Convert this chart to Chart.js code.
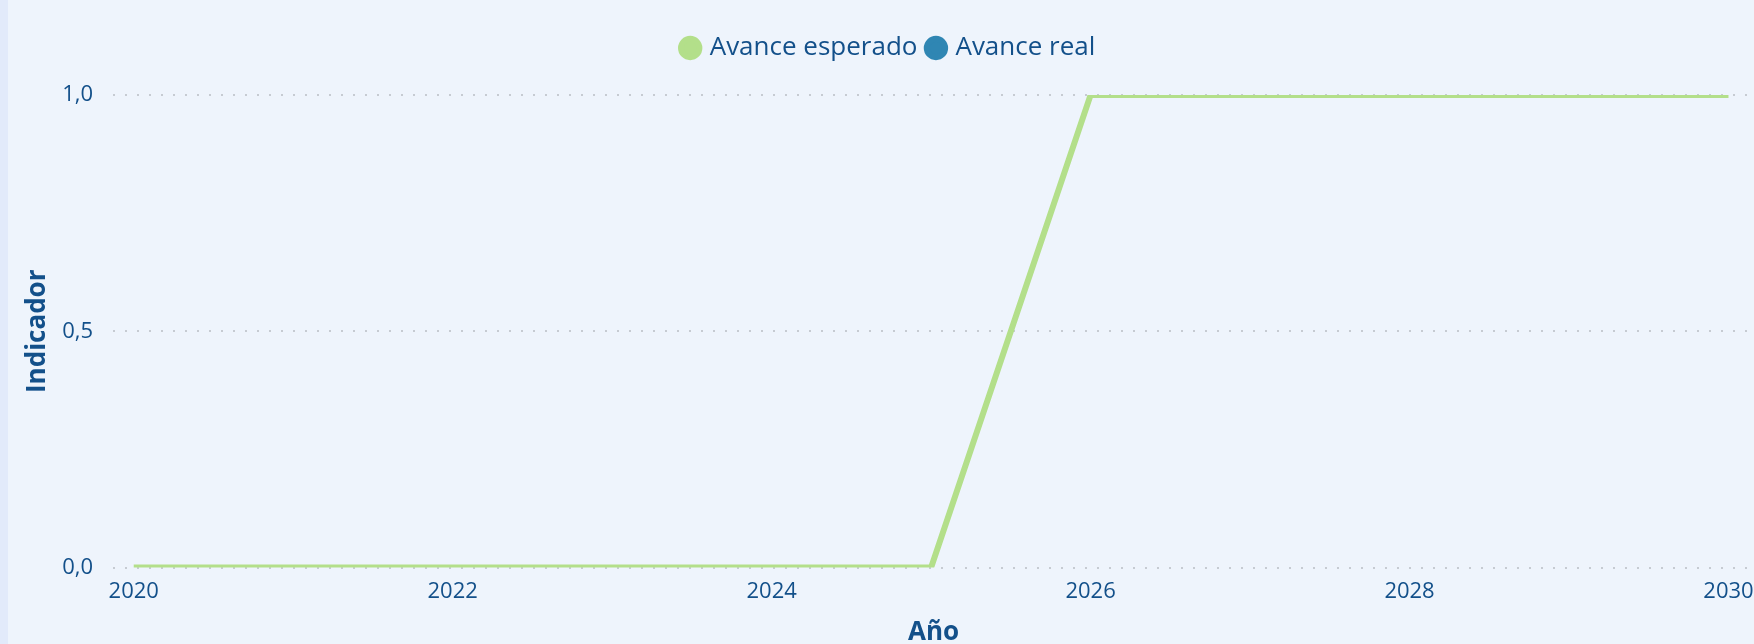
<!DOCTYPE html>
<html>
<head>
<meta charset="utf-8">
<script src="https://cdn.jsdelivr.net/npm/chart.js@4"></script>
<style>
  html, body { margin: 0; padding: 0; background: #eef4fc; overflow: hidden; }
  #franja { position: absolute; left: 0; top: 0; width: 8px; height: 644px; background: #e2eafa; }
  #grafico { position: absolute; left: 0; top: 0; }
</style>
</head>
<body>
<div id="franja"></div>
<canvas id="grafico" width="1754" height="644"></canvas>
<script>
// datos
const anios = [2020, 2021, 2022, 2023, 2024, 2025, 2026, 2027, 2028, 2029, 2030];
const avanceEsperado = [0, 0, 0, 0, 0, 0, 1, 1, 1, 1, 1];
const avanceReal = [];
const ticksAnio = [2020, 2022, 2024, 2026, 2028, 2030];
const ticksIndicador = [0, 0.5, 1];

const azulTexto = '#13508a';
const fuente = "'Segoe UI', 'Open Sans', sans-serif";

// deja mas aire entre la leyenda y el grafico
const espacioLeyenda = {
    id: 'espacioLeyenda',
    beforeInit(chart) {
        const fitOriginal = chart.legend.fit;
        chart.legend.fit = function () {
            fitOriginal.bind(chart.legend)();
            this.height += 24;
        };
    }
};

new Chart(document.getElementById('grafico'), {
    type: 'line',
    data: {
        datasets: [
            {
                label: 'Avance esperado',
                data: anios.map((a, i) => ({ x: a, y: avanceEsperado[i] })),
                borderColor: '#b3df8a',
                backgroundColor: '#b3df8a',
                borderWidth: 6,
                pointRadius: 0,
                tension: 0
            },
            {
                label: 'Avance real',
                data: avanceReal.map((v, i) => ({ x: anios[i], y: v })),
                borderColor: '#2f86b3',
                backgroundColor: '#2f86b3',
                borderWidth: 6,
                pointRadius: 0
            }
        ]
    },
    plugins: [espacioLeyenda],
    options: {
        responsive: false,
        devicePixelRatio: 1,
        animation: false,
        layout: { padding: { top: 23, right: 0, left: 25, bottom: 0 } },
        plugins: {
            legend: {
                position: 'top',
                labels: {
                    usePointStyle: true,
                    pointStyle: 'circle',
                    boxWidth: 13,
                    boxHeight: 13,
                    padding: 12,
                    color: azulTexto,
                    font: { family: fuente, size: 26 }
                }
            },
            tooltip: { enabled: false }
        },
        scales: {
            x: {
                type: 'linear',
                min: 2019.87,
                max: 2030.16,
                afterBuildTicks: axis => { axis.ticks = ticksAnio.map(v => ({ value: v })); },
                afterFit: axis => { axis.paddingLeft = 0; axis.paddingRight = 0; },
                grid: { display: false },
                border: { display: false },
                ticks: {
                    color: azulTexto,
                    font: { family: fuente, size: 22 },
                    padding: 3,
                    maxRotation: 0,
                    callback: v => String(v)
                },
                title: {
                    display: true,
                    text: 'Año',
                    color: azulTexto,
                    font: { family: fuente, size: 26, weight: 'bold', lineHeight: 0.85 },
                    padding: { top: 14, bottom: 0 }
                }
            },
            y: {
                min: 0,
                max: 1,
                afterBuildTicks: axis => { axis.ticks = ticksIndicador.map(v => ({ value: v })); },
                afterFit: axis => { axis.width = 88; },
                grid: {
                    color: '#c6cbd2',
                    lineWidth: 2,
                    drawTicks: false
                },
                border: { display: false, dash: [2, 10] },
                ticks: {
                    color: azulTexto,
                    font: { family: fuente, size: 22 },
                    padding: 20,
                    callback: v => v.toFixed(1).replace('.', ',')
                },
                title: {
                    display: true,
                    text: 'Indicador',
                    color: azulTexto,
                    font: { family: fuente, size: 26, weight: 'bold', lineHeight: 1 },
                    padding: { top: 0, bottom: 0 }
                }
            }
        }
    }
});
</script>
</body>
</html>
